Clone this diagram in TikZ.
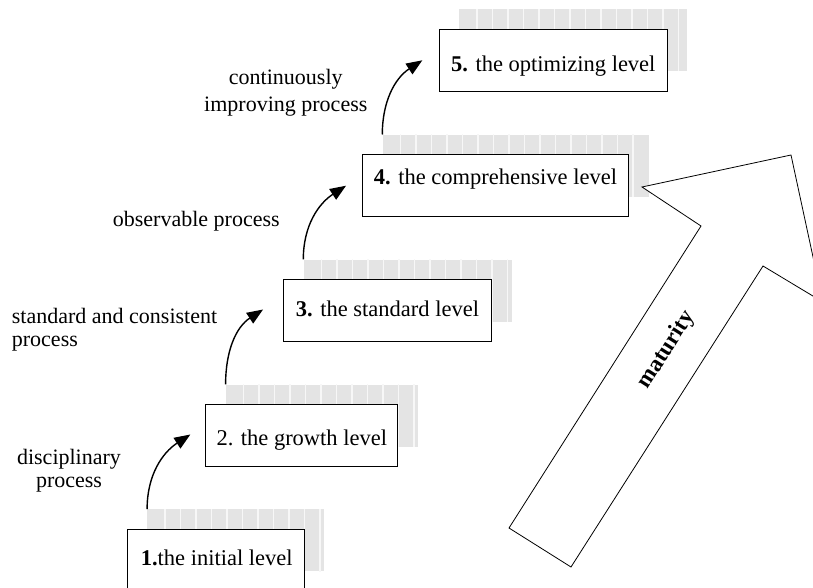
\documentclass[tikz,border=0pt]{standalone}
\usepackage{fontspec}
\setmainfont{Liberation Serif}
\usetikzlibrary{calc,arrows.meta}
\definecolor{shadegray}{HTML}{E4E4E4}
\definecolor{stripecol}{HTML}{F7F7F7}
\begin{document}
\begin{tikzpicture}[x=1pt,y=1pt,
  box/.style={draw, fill=white, line width=0.9pt, minimum height=62pt, inner sep=0pt},
  shadebox/.style={fill=shadegray, draw=none, minimum height=62pt, inner sep=0pt},
  stripe/.style={draw=stripecol, line width=1.6pt},
  lvl/.style={font=\fontsize{22.5}{26}\selectfont, anchor=base, inner sep=0pt},
  lab/.style={font=\fontsize{22}{23}\selectfont, inner sep=0pt},
  stepar/.style={line width=1.4pt, -{Triangle[length=16pt,width=12.5pt]}},
  bigarrow/.style={draw, fill=white, line width=0.8pt, line join=miter},
]
\useasboundingbox (0,-588) rectangle (813,0);
\clip (0,-588) rectangle (813,0);

% shadows
\node[shadebox, minimum width=177pt] (g1) at (235.8,-540.3) {};
\node[shadebox, minimum width=192pt] (g2) at (321.8,-415.5) {};
\node[shadebox, minimum width=208pt] (g3) at (407.5,-290.5) {};
\node[shadebox, minimum width=266pt] (g4) at (515.5,-165.7) {};
\node[shadebox, minimum width=228pt] (g5) at (573.3,-40.3) {};
\foreach \g/\n in {g1/10,g2/11,g3/12,g4/15,g5/13} {
  \foreach \i in {0,...,\n}
    \draw[stripe] ($(\g.north west)+(18+15.5*\i,0)$) -- ($(\g.south west)+(18+15.5*\i,0)$);
}

% boxes
\node[box, minimum width=177pt] (b1) at (215.8,-560.3) {};
\node[box, minimum width=192pt] (b2) at (301.8,-435.5) {};
\node[box, minimum width=208pt] (b3) at (387.5,-310.5) {};
\node[box, minimum width=266pt] (b4) at (495.5,-185.7) {};
\node[box, minimum width=228pt] (b5) at (553.3,-60.3) {};

\node[lvl] (t1) at (216.7,-565) {\textbf{1.}the initial level};
\node[lvl] (t2) at (301.8,-445) {2. the growth level};
\node[lvl] (t3) at (387.5,-316.7) {\textbf{3.} the standard level};
\node[lvl] (t4) at (495.5,-184) {\textbf{4.} the comprehensive level};
\node[lvl] (t5) at (553.3,-71.7) {\textbf{5.} the optimizing level};

% curved arrows
\draw[stepar] (g1.north west) to[out=90,in=213] ($(b2.west)+(-15,1)$);
\draw[stepar] (g2.north west) to[out=90,in=213] ($(b3.west)+(-20,1)$);
\draw[stepar] (g3.north west) to[out=90,in=213] ($(b4.west)+(-16,0)$);
\draw[stepar] (g4.north west) to[out=90,in=213] ($(b5.west)+(-16.5,0)$);

% labels
\node[lab, align=center] (l1) at (69,-470.4) {disciplinary\\process};
\node[lab, align=left, anchor=north west, font=\fontsize{22}{22.5}\selectfont] (l2) at (11.7,-308.5) {standard and consistent\\process};
\node[lab, anchor=base west] (l3) at (112.7,-226.7) {observable process};
\node[lab, align=center, font=\fontsize{22}{27}\selectfont] (l4) at (285.8,-93) {continuously\\improving process};

% maturity arrow
\path[bigarrow] (509,-528) coordinate (ma) -- (571,-567) coordinate (mb)
  -- (763,-266) coordinate (mc) -- (822.7,-301.9) coordinate (md)
  -- (791,-155) coordinate (me) -- (642,-187) coordinate (mf)
  -- (701,-226) coordinate (mg) -- cycle;
\node[font=\fontsize{23}{26}\selectfont\bfseries, rotate=57.6, inner sep=0pt] (mat) at (666.5,-350) {maturity};
\end{tikzpicture}
\end{document}
